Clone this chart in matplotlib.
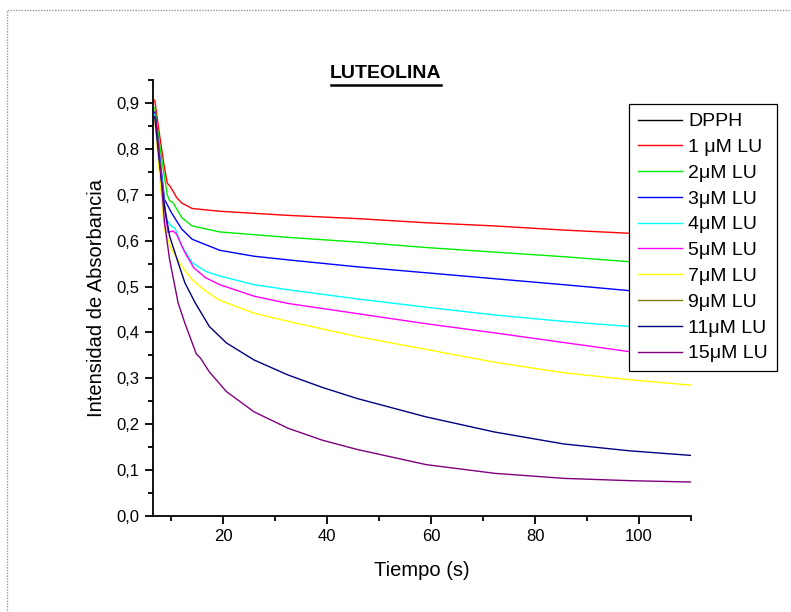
import matplotlib
matplotlib.use("Agg")
import matplotlib.pyplot as plt
from matplotlib.patches import Rectangle
from matplotlib.ticker import MultipleLocator, FixedLocator

plt.rcParams['font.family'] = ['Liberation Sans', 'DejaVu Sans']

# datos (tiempo en s, absorbancia)
t_1uM = [6.8, 7.6, 8.5, 9.2, 9.65, 10.3, 11.0, 12.0, 14.0, 19.3, 32.5, 45.75, 59, 72.2, 85.5, 98.2, 110]
a_1uM = [0.906, 0.84, 0.77, 0.725, 0.72, 0.708, 0.694, 0.682, 0.670, 0.664, 0.655, 0.648, 0.639, 0.632, 0.623, 0.616, 0.61]

t_2uM = [6.8, 7.6, 8.5, 9.2, 9.65, 10.3, 12.0, 14.0, 19.3, 32.5, 45.75, 59, 72.2, 85.5, 98.2, 110]
a_2uM = [0.89, 0.82, 0.75, 0.70, 0.687, 0.683, 0.65, 0.632, 0.619, 0.607, 0.597, 0.585, 0.575, 0.565, 0.554, 0.546]

t_3uM = [6.8, 7.6, 8.67, 10.0, 12.0, 14.0, 19.3, 25.9, 32.5, 45.75, 59, 72.2, 85.5, 98.2, 110]
a_3uM = [0.88, 0.80, 0.69, 0.661, 0.625, 0.603, 0.579, 0.566, 0.558, 0.543, 0.530, 0.517, 0.504, 0.491, 0.48]

t_4uM = [6.8, 7.6, 9.0, 10.0, 10.65, 12.0, 14.0, 16.6, 19.3, 25.9, 32.5, 45.75, 59, 72.2, 85.5, 98.2, 110]
a_4uM = [0.875, 0.79, 0.647, 0.631, 0.628, 0.588, 0.552, 0.533, 0.523, 0.504, 0.493, 0.473, 0.455, 0.438, 0.424, 0.413, 0.403]

t_5uM = [6.8, 7.6, 8.6, 9.33, 10.3, 11.0, 12.6, 14.3, 16.6, 19.3, 25.9, 32.5, 45.75, 59, 72.2, 85.5, 98.2, 110]
a_5uM = [0.87, 0.78, 0.68, 0.618, 0.621, 0.614, 0.574, 0.541, 0.519, 0.504, 0.479, 0.463, 0.441, 0.419, 0.399, 0.378, 0.358, 0.346]

t_7uM = [6.8, 7.6, 8.67, 10.0, 12.0, 14.0, 16.6, 19.3, 25.9, 32.5, 45.75, 59, 72.2, 85.5, 98.2, 110]
a_7uM = [0.865, 0.76, 0.625, 0.581, 0.544, 0.515, 0.49, 0.47, 0.442, 0.424, 0.391, 0.363, 0.335, 0.312, 0.297, 0.285]

t_11uM = [6.8, 7.6, 8.6, 9.65, 11.3, 12.6, 14.6, 17.3, 20.6, 25.9, 32.5, 39.1, 45.75, 59, 72.2, 85.5, 98.2, 110]
a_11uM = [0.87, 0.78, 0.68, 0.61, 0.552, 0.508, 0.464, 0.413, 0.377, 0.34, 0.307, 0.28, 0.256, 0.216, 0.183, 0.157, 0.142, 0.132]

t_15uM = [6.95, 7.9, 8.67, 9.65, 11.3, 12.6, 14.8, 15.6, 17.3, 20.6, 25.9, 32.5, 39.1, 45.75, 59, 72.2, 85.5, 98.2, 110]
a_15uM = [0.87, 0.756, 0.64, 0.559, 0.464, 0.42, 0.353, 0.344, 0.314, 0.271, 0.227, 0.191, 0.165, 0.145, 0.112, 0.093, 0.082, 0.077, 0.074]

fig = plt.figure(figsize=(7.91, 6.12), dpi=100)
ax = fig.add_axes([153/791, 1-516/612, (691-153)/791, (516-80)/612])

# DPPH y 9 uM no se distinguen en la figura: solo en la leyenda
ax.plot([], [], color="black", lw=1, label="DPPH")
ax.plot(t_1uM, a_1uM, color="#ff0000", lw=1, label="1 \u03bcM LU")
ax.plot(t_2uM, a_2uM, color="#00ee00", lw=1, label="2\u03bcM LU")
ax.plot(t_3uM, a_3uM, color="#0000ff", lw=1, label="3\u03bcM LU")
ax.plot(t_4uM, a_4uM, color="#00ffff", lw=1, label="4\u03bcM LU")
ax.plot(t_5uM, a_5uM, color="#ff00ff", lw=1, label="5\u03bcM LU")
ax.plot(t_7uM, a_7uM, color="#ffff00", lw=1, label="7\u03bcM LU")
ax.plot([], [], color="#808000", lw=1, label="9\u03bcM LU")
ax.plot(t_11uM, a_11uM, color="#000080", lw=1, label="11\u03bcM LU")
ax.plot(t_15uM, a_15uM, color="#800080", lw=1, label="15\u03bcM LU")

ax.set_xlim(6.46, 110)
ax.set_ylim(0, 0.95)
ax.spines['top'].set_visible(False)
ax.spines['right'].set_visible(False)
ax.spines['left'].set_linewidth(1.3)
ax.spines['bottom'].set_linewidth(1.3)

ax.xaxis.set_major_locator(FixedLocator([20, 40, 60, 80, 100]))
ax.xaxis.set_minor_locator(FixedLocator([10, 30, 50, 70, 90, 110]))
ax.yaxis.set_minor_locator(MultipleLocator(0.05))
ax.set_yticks([i/10 for i in range(10)])
ax.set_yticklabels(["0,%d" % i for i in range(10)])
ax.tick_params(which="major", direction="out", length=6, width=1.3, labelsize=12)
ax.tick_params(which="minor", direction="out", length=3.5, width=1.3)

ax.set_xlabel("Tiempo (s)", fontsize=14.5, labelpad=12)
ax.set_ylabel("Intensidad de Absorbancia", fontsize=14.5, labelpad=8)

fig.text(386/791, 1-74/612, "LUTEOLINA", ha="center", va="center",
         fontsize=14, fontweight="bold")
fig.add_artist(plt.Line2D([331/791, 441/791], [1-84.5/612, 1-84.5/612],
                          color="black", lw=1.8, transform=fig.transFigure))

leg = ax.legend(loc="upper left", bbox_to_anchor=(629/791, 1-104/612),
                bbox_transform=fig.transFigure, fontsize=14, frameon=True,
                fancybox=False, borderpad=0.45, labelspacing=0.42,
                handlelength=2.25, handletextpad=0.35, borderaxespad=0)
leg.get_frame().set_edgecolor("black")
leg.get_frame().set_linewidth(0.9)
leg.get_frame().set_alpha(1)

# borde punteado alrededor
fig.add_artist(Rectangle((7/791, -0.1), 1.2, 1-10/612+0.1, fill=False,
                         edgecolor="#999999", lw=1.0, linestyle=(0, (1, 1)),
                         transform=fig.transFigure))

fig.savefig("out.png", dpi=100)
